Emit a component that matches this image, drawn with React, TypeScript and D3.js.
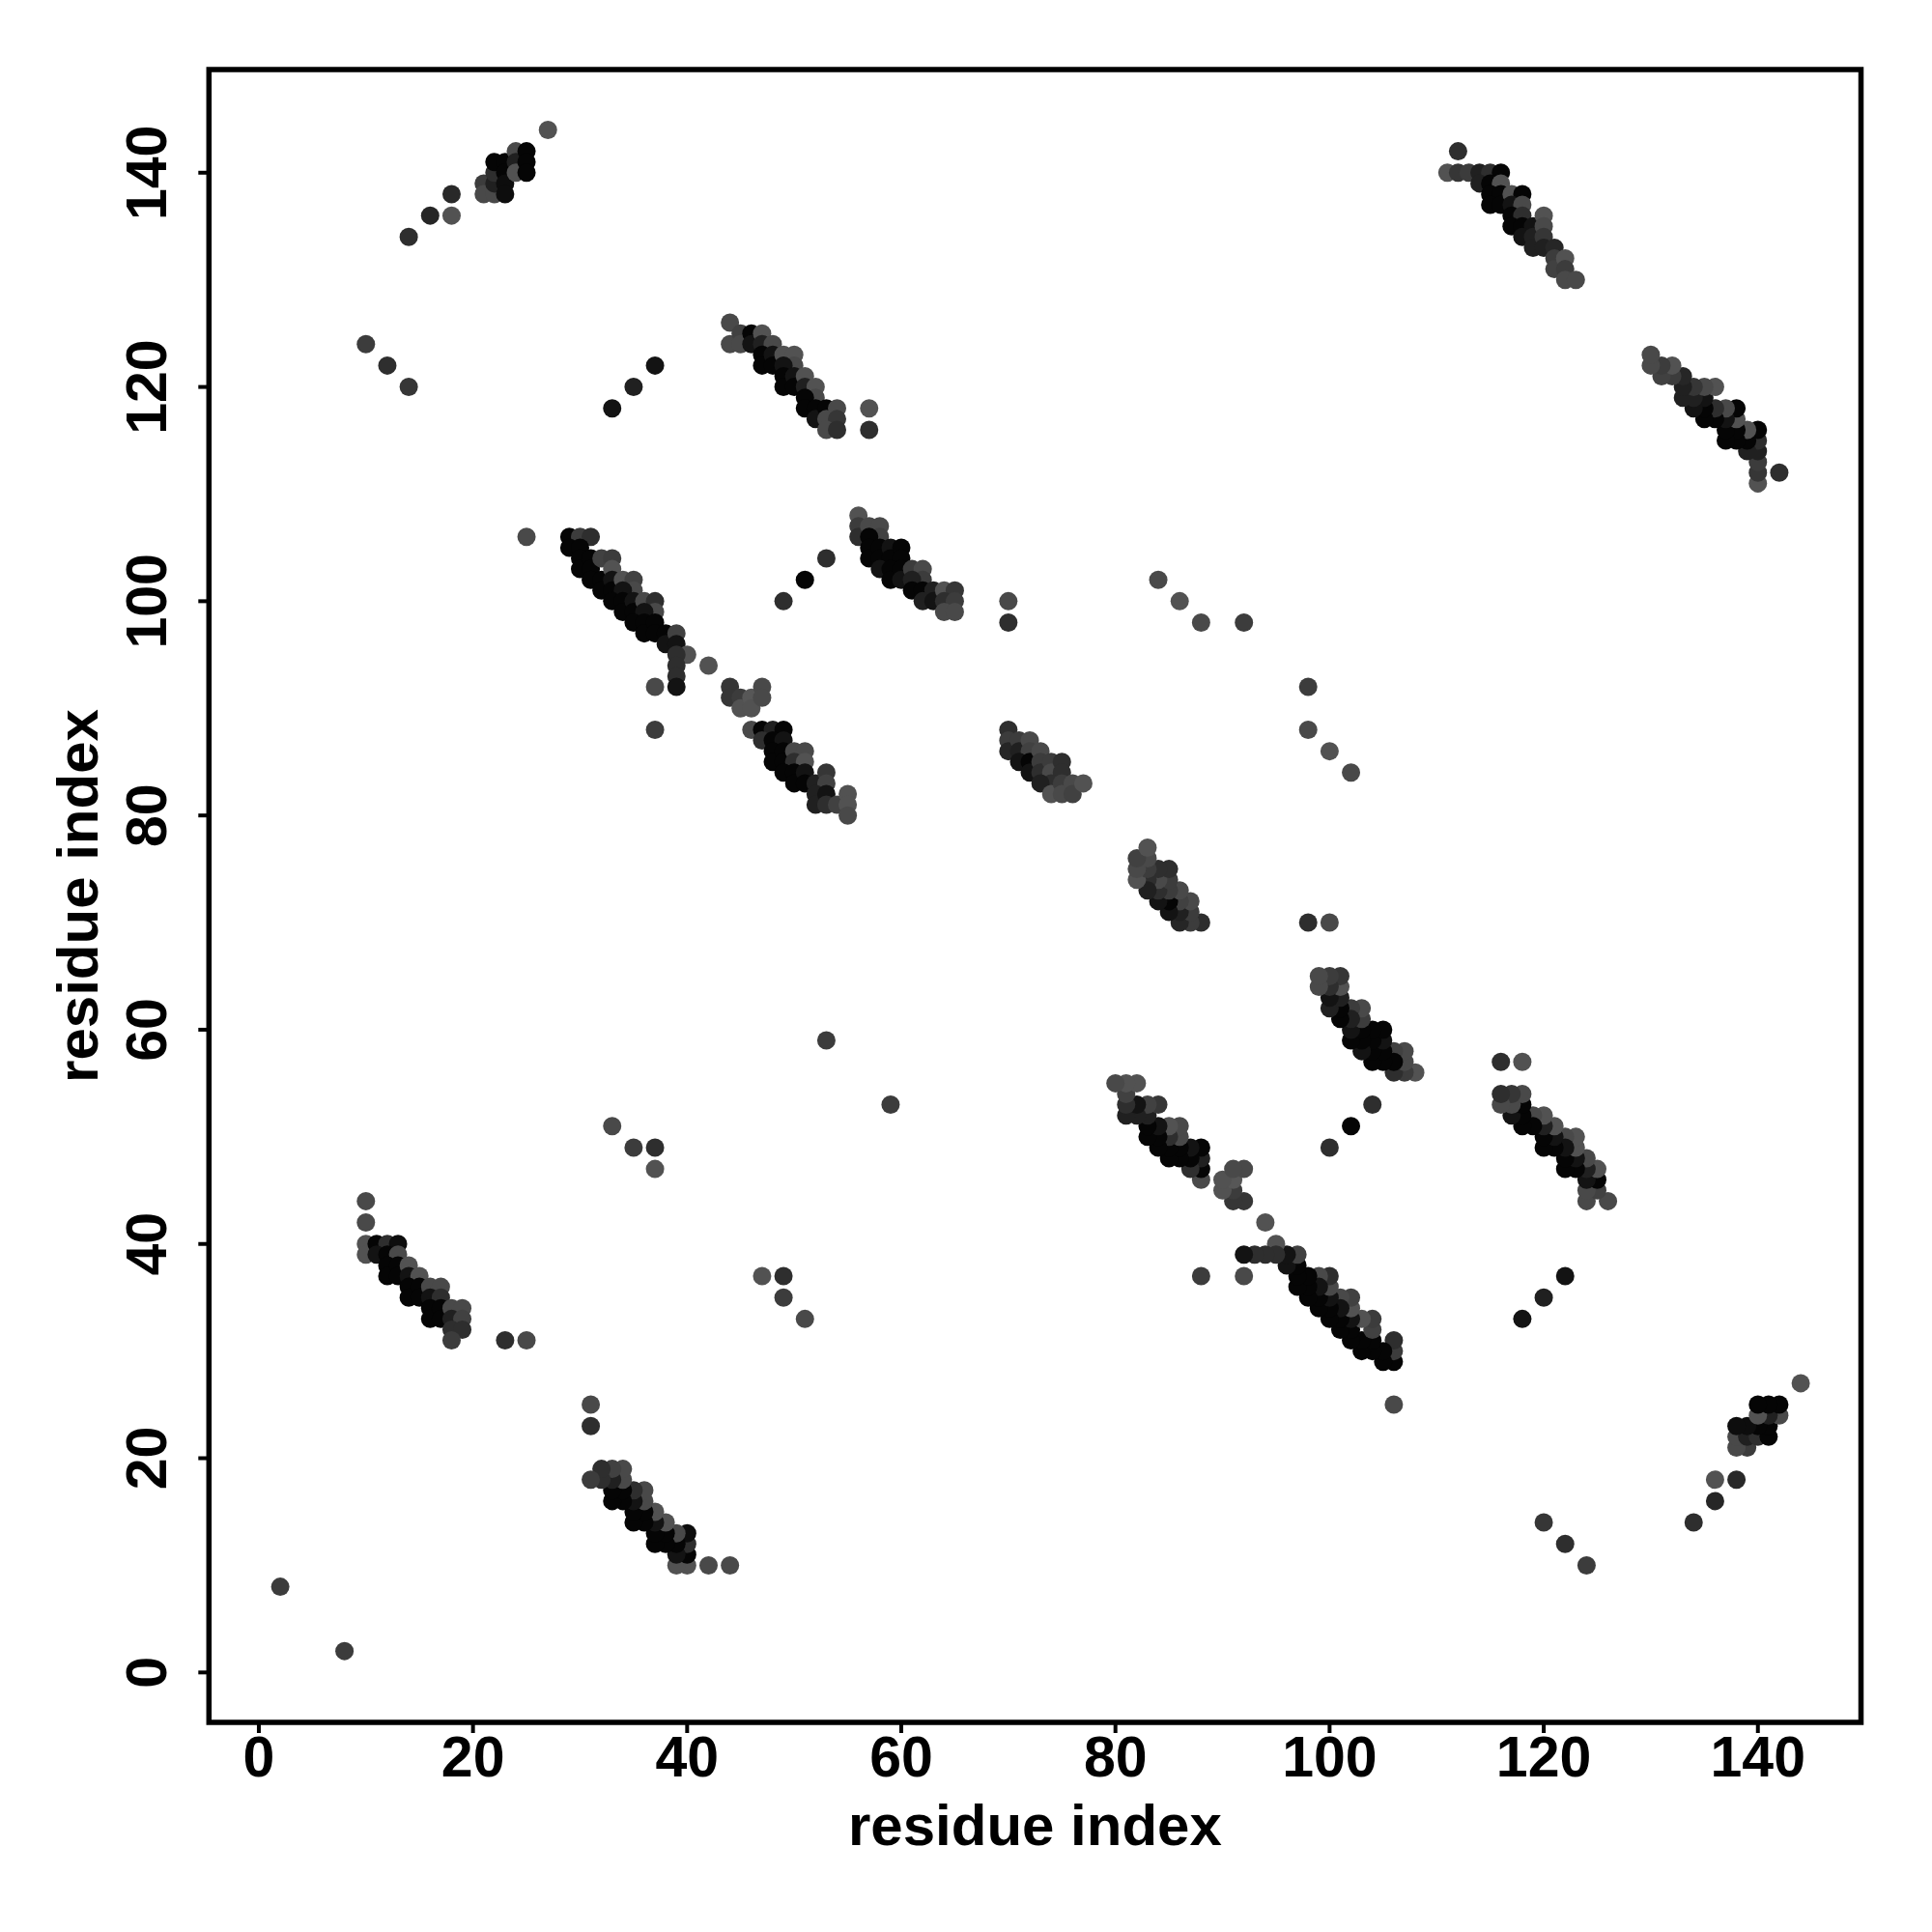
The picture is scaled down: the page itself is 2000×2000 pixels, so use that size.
import React from "react";
import * as d3 from "d3";

// Contacts (i < j) with predicted probability; the map is symmetric, both (i,j) and (j,i) are drawn.
const singles: [number, number, number][] = [
  [2, 8, 0.8],
  [10, 124, 0.8], [12, 122, 0.85], [14, 120, 0.82],
  [33, 118, 0.95], [35, 120, 0.9], [37, 122, 0.95],
  [33, 51, 0.75], [35, 49, 0.8], [37, 49, 0.85], [37, 47, 0.72],
  [53, 59, 0.8],
  [84, 102, 0.75], [86, 100, 0.72], [88, 98, 0.75], [92, 98, 0.8],
  [70, 98, 0.85], [70, 100, 0.75],
  [49, 100, 0.85], [51, 102, 1], [53, 104, 0.85],
  [23, 31, 0.85], [25, 31, 0.75],
  [25, 106, 0.75],
  [37, 88, 0.8], [37, 92, 0.75], [42, 94, 0.72],
  [57, 118, 0.72], [57, 116, 0.85],
  [14, 134, 0.85], [16, 136, 0.88], [18, 136, 0.72], [18, 138, 0.87], [27, 144, 0.72],
];

const strandA: [number, number, number][] = [
  [10, 44, 0.75], [10, 42, 0.75], [10, 40, 0.72], [10, 39, 0.72], [11, 40, 1], [12, 40, 0.85], [13, 40, 0.97],
  [11, 39, 0.95], [12, 39, 1], [13, 39, 0.75], [12, 38, 1], [12, 37, 1], [13, 38, 1], [13, 37, 1],
  [14, 38, 0.72], [14, 37, 0.95], [15, 37, 0.72], [14, 36, 1], [14, 35, 1], [15, 36, 1], [15, 35, 1],
  [16, 36, 0.75], [17, 36, 0.75], [16, 35, 0.95], [17, 35, 0.85], [16, 34, 1], [16, 33, 1], [17, 34, 1],
  [17, 33, 1], [18, 34, 0.75], [19, 34, 0.75], [18, 33, 0.9], [19, 33, 0.78], [18, 32, 0.85], [19, 32, 0.85],
  [18, 31, 0.8],
];

const strandB: [number, number, number][] = [
  [21, 139, 0.8], [21, 138, 0.75], [22, 138, 0.75], [22, 139, 0.9], [22, 140, 0.85], [22, 141, 1],
  [23, 141, 1], [23, 140, 1], [23, 139, 0.97], [23, 138, 0.97], [24, 142, 0.75], [24, 141, 0.9],
  [24, 140, 0.72], [25, 142, 1], [25, 141, 1], [25, 140, 1],
];

const strandD: [number, number, number][] = [
  [29, 106, 1], [30, 106, 0.8], [31, 106, 0.85], [29, 105, 1], [30, 105, 1], [30, 104, 1], [30, 103, 1],
  [31, 104, 1], [31, 103, 1], [32, 104, 0.78], [33, 104, 0.8], [31, 102, 1], [32, 102, 1], [32, 101, 1],
  [33, 103, 0.72], [33, 102, 0.95], [33, 101, 1], [34, 102, 0.72], [35, 102, 0.78], [35, 101, 0.75],
  [34, 101, 0.95], [33, 100, 1], [34, 100, 1], [34, 99, 1], [35, 100, 0.95], [35, 99, 1], [36, 100, 0.75],
  [37, 100, 0.85], [37, 99, 0.75], [36, 99, 0.95], [35, 98, 1], [36, 98, 1], [36, 97, 1], [37, 98, 1],
  [37, 97, 1], [38, 97, 1], [38, 96, 0.95], [39, 97, 0.78], [39, 96, 0.95], [40, 95, 0.72], [39, 95, 0.85],
  [39, 94, 0.85], [39, 93, 0.85], [39, 92, 0.95],
];

const strandE: [number, number, number][] = [
  [44, 92, 0.82], [44, 91, 0.82], [45, 91, 0.8], [45, 90, 0.72], [46, 91, 0.7], [46, 90, 0.72], [47, 92, 0.75],
  [47, 91, 0.75], [46, 88, 0.75], [47, 88, 1], [48, 88, 0.9], [49, 88, 1], [47, 87, 0.85], [48, 87, 1],
  [49, 87, 0.95], [48, 86, 1], [48, 85, 1], [49, 86, 1], [49, 85, 1], [50, 86, 0.75], [51, 86, 0.75],
  [50, 85, 0.85], [51, 85, 0.72], [49, 84, 1], [50, 84, 1], [50, 83, 1], [51, 84, 0.95], [51, 83, 1],
  [52, 83, 0.9], [53, 84, 0.82], [53, 83, 0.78], [52, 82, 0.9], [52, 81, 0.9], [53, 82, 0.95], [53, 81, 0.85],
  [54, 81, 0.78], [55, 82, 0.72], [55, 81, 0.72], [55, 80, 0.75],
];

const strandF: [number, number, number][] = [
  [44, 126, 0.75], [44, 124, 0.75], [45, 125, 0.78], [45, 124, 0.75], [46, 125, 1], [46, 124, 0.95],
  [47, 125, 0.72], [47, 124, 0.9], [48, 124, 0.75], [47, 123, 1], [47, 122, 1], [48, 123, 0.95], [48, 122, 1],
  [49, 123, 0.72], [50, 123, 0.72], [50, 122, 0.75], [49, 122, 0.95], [49, 121, 1], [49, 120, 1],
  [50, 121, 0.95], [50, 120, 1], [51, 121, 0.72], [51, 120, 0.9], [52, 120, 0.72], [52, 119, 0.75],
  [51, 119, 1], [51, 118, 1], [52, 118, 1], [52, 117, 0.95], [53, 118, 1], [53, 117, 0.75], [54, 118, 0.75],
  [54, 117, 0.82], [53, 116, 0.75], [54, 116, 0.85],
];

const strandG: [number, number, number][] = [
  [56, 108, 0.72], [56, 107, 0.8], [56, 106, 0.85], [57, 107, 0.75], [58, 107, 0.75], [58, 106, 0.78],
  [57, 106, 1], [57, 105, 1], [57, 104, 1], [58, 105, 1], [58, 104, 1], [59, 105, 0.95], [59, 104, 1],
  [60, 105, 1], [60, 104, 1], [58, 103, 0.95], [59, 103, 1], [59, 102, 1], [60, 103, 1], [60, 102, 0.95],
  [61, 103, 0.8], [62, 103, 0.75], [62, 102, 0.8], [61, 102, 0.9], [61, 101, 1], [62, 101, 1], [62, 100, 0.9],
  [63, 101, 0.9], [63, 100, 0.95], [64, 101, 0.72], [65, 101, 0.82], [64, 100, 0.85], [65, 100, 0.8],
  [64, 99, 0.75], [65, 99, 0.75],
];

const strandH: [number, number, number][] = [
  [70, 88, 0.85], [70, 87, 0.8], [70, 86, 0.88], [71, 87, 0.8], [71, 86, 0.9], [72, 87, 0.75], [72, 86, 0.78],
  [71, 85, 0.95], [72, 85, 1], [72, 84, 0.95], [73, 86, 0.75], [73, 85, 0.8], [73, 84, 0.85], [74, 85, 0.8],
  [74, 84, 0.75], [75, 85, 0.85], [75, 84, 0.85], [74, 83, 0.85], [73, 83, 0.9], [74, 82, 0.72],
  [75, 83, 0.8], [75, 82, 0.75], [76, 83, 0.75], [76, 82, 0.78], [77, 83, 0.72],
];

const strandJ: [number, number, number][] = [
  [112, 142, 0.85], [111, 140, 0.72], [112, 140, 0.82], [113, 140, 0.8], [114, 140, 0.9], [115, 140, 0.85],
  [116, 140, 1], [114, 139, 0.9], [115, 139, 1], [116, 139, 0.72], [115, 138, 1], [116, 138, 1],
  [115, 137, 1], [116, 137, 1], [117, 138, 0.72], [118, 138, 1], [117, 137, 0.95], [118, 137, 0.75],
  [117, 136, 1], [118, 136, 0.85], [117, 135, 1], [118, 135, 1], [119, 135, 0.95], [118, 134, 0.95],
  [119, 134, 0.9], [119, 133, 0.9], [120, 136, 0.72], [120, 135, 0.75], [120, 134, 0.82], [120, 133, 0.9],
  [121, 133, 0.88], [121, 132, 0.8], [121, 131, 0.78], [122, 132, 0.72], [122, 131, 0.8], [122, 130, 0.75],
  [123, 130, 0.75],
];

const ticks = [0, 20, 40, 60, 80, 100, 120, 140];
const axisTitle = "residue index";

const contacts = [
  ...singles, ...strandA, ...strandB, ...strandD, ...strandE,
  ...strandF, ...strandG, ...strandH, ...strandJ,
];

export default function App() {
  const W = 2000, H = 2000;
  const left = 216.3, right = 1926.5, top = 72, bottom = 1783;
  const domain: [number, number] = [-4.66, 149.63];
  const x = d3.scaleLinear().domain(domain).range([left, right]);
  const y = d3.scaleLinear().domain(domain).range([bottom, top]);
  const shade = d3.scaleLinear<string>().domain([0.7, 1]).range(["#575757", "#050505"]).clamp(true);
  const font = "'Liberation Sans', Arial, Helvetica, sans-serif";
  const pts: { cx: number; cy: number; p: number }[] = [];
  contacts.forEach(([i, j, p]) => {
    pts.push({ cx: i, cy: j, p });
    pts.push({ cx: j, cy: i, p });
  });
  return (
    <svg width={W} height={H} style={{ position: "absolute", left: 0, top: 0, background: "#fff" }}>
      <rect x={0} y={0} width={W} height={H} fill="#fff" />
      <g>
        {pts.map((d, k) => (
          <circle key={k} cx={x(d.cx)} cy={y(d.cy)} r={9.5} fill={shade(d.p)} />
        ))}
      </g>
      <rect x={left} y={top} width={right - left} height={bottom - top} fill="none" stroke="#000" strokeWidth={5.5} />
      {ticks.map((t) => (
        <g key={"x" + t}>
          <line x1={x(t)} x2={x(t)} y1={bottom} y2={bottom + 11} stroke="#000" strokeWidth={4} />
          <text x={x(t)} y={1839} textAnchor="middle" fontFamily={font} fontWeight="bold" fontSize={59}>{t}</text>
        </g>
      ))}
      {ticks.map((t) => (
        <g key={"y" + t}>
          <line x1={left} x2={left - 11} y1={y(t)} y2={y(t)} stroke="#000" strokeWidth={4} />
          <text transform={`translate(172,${y(t)}) rotate(-90)`} textAnchor="middle" fontFamily={font} fontWeight="bold" fontSize={59}>{t}</text>
        </g>
      ))}
      <text x={(left + right) / 2} y={1910} textAnchor="middle" fontFamily={font} fontWeight="bold" fontSize={60}>{axisTitle}</text>
      <text transform={`translate(101,${(top + bottom) / 2}) rotate(-90)`} textAnchor="middle" fontFamily={font} fontWeight="bold" fontSize={60}>{axisTitle}</text>
    </svg>
  );
}
